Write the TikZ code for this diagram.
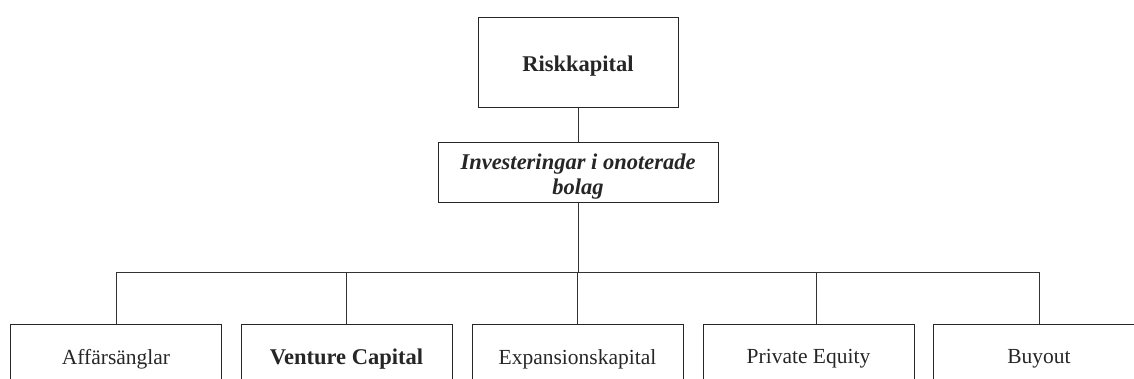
\documentclass[tikz,border=0pt]{standalone}
\usepackage{fontspec}
\setmainfont{Liberation Serif}
\begin{document}
\begin{tikzpicture}[x=1pt,y=-1pt,
  box/.style={draw=black!85,line width=1pt,inner sep=0pt,align=center,text=black!85},
  con/.style={draw=black!80,line width=1pt}]
\useasboundingbox (0,0) rectangle (1134,378);
\clip (0,0) rectangle (1134,378);
\node[box,minimum width=200pt,minimum height=90pt,font=\fontsize{22.5}{25}\selectfont\bfseries] (top) at (578,62) {\raisebox{-4pt}[\height][\depth]{Riskkapital}};
\node[box,minimum width=280pt,minimum height=60pt,font=\fontsize{22.5}{25}\selectfont\bfseries\itshape] (mid) at (578,172) {\raisebox{-5pt}[\height][\depth]{\begin{tabular}{@{}c@{}}Investeringar i onoterade\\bolag\end{tabular}}};
\tikzset{bot/.style={box,minimum width=211pt,minimum height=70pt,font=\fontsize{21.5}{25}\selectfont}}
\node[bot] (b1) at (116,359) {Affärsänglar};
\node[bot,font=\fontsize{22.5}{25}\selectfont\bfseries] (b2) at (346.5,359) {Venture Capital};
\node[bot] (b3) at (577.5,359) {Expansionskapital};
\node[bot] (b4) at (808.5,359) {Private Equity};
\node[bot] (b5) at (1039,359) {Buyout};
\coordinate (bus) at (578,272);
\coordinate (p4) at ([xshift=8pt]b4.north);
\draw[con] (top.south) -- (mid.north);
\draw[con] (mid.south) -- (bus);
\draw[con] (b1.north |- bus) -- (b5.north |- bus);
\draw[con] (b1.north |- bus) -- (b1.north);
\draw[con] (b2.north |- bus) -- (b2.north);
\draw[con] (b3.north |- bus) -- (b3.north);
\draw[con] (p4 |- bus) -- (p4);
\draw[con] (b5.north |- bus) -- (b5.north);
\end{tikzpicture}
\end{document}
